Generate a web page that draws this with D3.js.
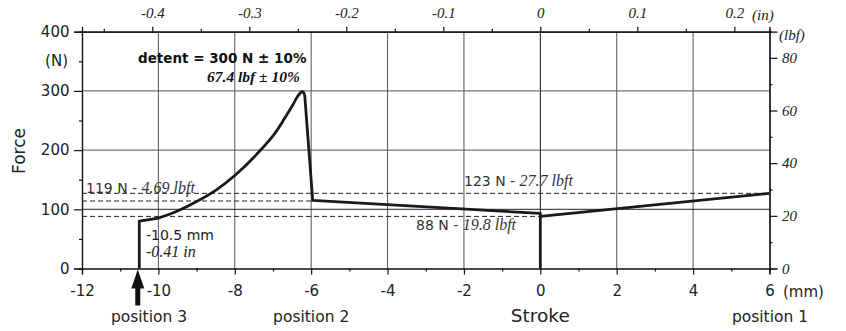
<!DOCTYPE html>
<html><head><meta charset="utf-8">
<script src="https://cdn.jsdelivr.net/npm/d3@7"></script>
<style>
body{margin:0;background:#fff;}
svg{display:block;}
.sans{font-family:"DejaVu Sans",Verdana,sans-serif;}
.serif{font-family:"Liberation Serif","Times New Roman",serif;font-style:italic;}
</style></head>
<body><svg id="c" width="846" height="331"></svg>
<script>
// ---- data ----
const strokeTicksMm = [-12,-10,-8,-6,-4,-2,0,2,4,6];
const forceTicksN = [0,100,200,300,400];
const inchTicks = [-0.4,-0.3,-0.2,-0.1,0,0.1,0.2];
const lbfTicks = [0,20,40,60,80];
// entry segment (vertical rise at -10.5 mm)
const entryMm = [-10.5,-10.5,-10];
const entryN  = [0,80,85];
// rising detent curve
const riseMm = [-10,-9.5,-9,-8.5,-8,-7.5,-7,-6.75,-6.5,-6.4,-6.33,-6.27,-6.22,-6.17];
const riseN  = [85,97,113,132,157,188,224,248,274,286,293,297.5,298.5,294];
// drop and return
const dropMm = [-6.17,-5.96,0,0];
const dropN  = [294,115,93,0];
// final segment
const endMm = [0,6];
const endN  = [88,127];
// dashed reference lines
const refN   = [127,114,88];
const refX0  = [-12,-12,-12];
const refX1  = [6,-6,0];

const svg = d3.select("#c");
const x = d3.scaleLinear().domain([-12,6]).range([82,769.5]);
const y = d3.scaleLinear().domain([0,400]).range([268.5,31.7]);
const xin = d3.scaleLinear().domain([-12/25.4,6/25.4]).range([82,769.5]);
const ylbf = d3.scaleLinear().domain([0,400/4.44822]).range([268.5,31.7]);

// grid
const g = svg.append("g");
g.selectAll(".vg").data(strokeTicksMm.filter(d=>d>-12&&d<6)).join("line")
  .attr("x1",d=>x(d)).attr("x2",d=>x(d)).attr("y1",y(0)).attr("y2",y(400))
  .attr("stroke",d=>d===0?"#111":"#555").attr("stroke-width",1);
g.selectAll(".hg").data(forceTicksN.filter(d=>d>0&&d<400)).join("line")
  .attr("x1",x(-12)).attr("x2",x(6)).attr("y1",d=>y(d)).attr("y2",d=>y(d))
  .attr("stroke",d=>d===100?"#222":"#555").attr("stroke-width",1);

// dashed refs
g.selectAll(".ref").data(refN).join("line")
  .attr("x1",(d,i)=>x(refX0[i])).attr("x2",(d,i)=>x(refX1[i]))
  .attr("y1",d=>y(d)).attr("y2",d=>y(d))
  .attr("stroke","#222").attr("stroke-width",1).attr("stroke-dasharray","5,3");

// axes
const axBottom = d3.axisBottom(x).tickValues(strokeTicksMm).tickSize(6).tickFormat(d=>String(d));
const axBottomMinor = d3.axisBottom(x).tickValues(d3.range(-11,6,2)).tickSize(3).tickFormat("");
const axLeft = d3.axisLeft(y).tickValues(forceTicksN).tickSize(8).tickFormat(d=>String(d));
const axLeftMinor = d3.axisLeft(y).tickValues([50,150,250,350]).tickSize(3).tickFormat("");
const axTop = d3.axisTop(xin).tickValues(inchTicks).tickSize(5).tickFormat(d=>String(Math.round(d*10)/10));
const axTopMinor = d3.axisTop(xin).tickValues([-0.45,-0.35,-0.25,-0.15,-0.05,0.05,0.15]).tickSize(3).tickFormat("");
const axRight = d3.axisRight(ylbf).tickValues(lbfTicks).tickSize(8).tickFormat(d=>String(d));
const axRightMinor = d3.axisRight(ylbf).tickValues([10,30,50,70]).tickSize(3).tickFormat("");

function style(sel, cls, size){
  sel.select(".domain").attr("stroke","#111").attr("stroke-width",1.2).attr("fill","none");
  sel.selectAll(".tick line").attr("stroke","#111").attr("stroke-width",1.2);
  sel.selectAll(".tick text").attr("class",cls).attr("font-size",size).attr("fill","#222");
}
const gb = svg.append("g").attr("transform",`translate(0,${y(0)})`).call(axBottom);
style(gb,"sans",15); gb.selectAll(".tick text").attr("dy","1.25em");
svg.append("g").attr("transform",`translate(0,${y(0)})`).call(axBottomMinor).call(s=>style(s,"sans",15));
const gl = svg.append("g").attr("transform",`translate(${x(-12)},0)`).call(axLeft);
style(gl,"sans",15); gl.selectAll(".tick text").attr("dx","-0.1em");
svg.append("g").attr("transform",`translate(${x(-12)},0)`).call(axLeftMinor).call(s=>style(s,"sans",15));
const gt = svg.append("g").attr("transform",`translate(0,${y(400)})`).call(axTop);
style(gt,"serif",15); gt.selectAll(".tick text").attr("dy","-0.35em");
svg.append("g").attr("transform",`translate(0,${y(400)})`).call(axTopMinor).call(s=>style(s,"serif",15));
const gr = svg.append("g").attr("transform",`translate(${x(6)},0)`).call(axRight);
style(gr,"serif",15); gr.selectAll(".tick text").attr("dx","0.1em");
svg.append("g").attr("transform",`translate(${x(6)},0)`).call(axRightMinor).call(s=>style(s,"serif",15));

// curve
const lin = d3.line().x(d=>x(d[0])).y(d=>y(d[1]));
const smooth = d3.line().x(d=>x(d[0])).y(d=>y(d[1])).curve(d3.curveNatural);
const zip = (a,b)=>a.map((v,i)=>[v,b[i]]);
const cg = svg.append("g").attr("fill","none").attr("stroke","#1a1a1a").attr("stroke-width",2.8)
  .attr("stroke-linejoin","round");
cg.append("path").attr("d",lin(zip(entryMm,entryN)));
cg.append("path").attr("d",smooth(zip(riseMm,riseN)));
cg.append("path").attr("d",lin(zip(dropMm,dropN)));
cg.append("path").attr("d",lin(zip(endMm,endN)));

// labels
function txt(xp,yp,s,cls,size,opts={}){
  const t = svg.append("text").attr("x",xp).attr("y",yp).attr("class",cls)
    .attr("font-size",size).attr("fill",opts.fill||"#222").text(s);
  if(opts.anchor) t.attr("text-anchor",opts.anchor);
  if(opts.weight) t.attr("font-weight",opts.weight);
  return t;
}
function mixed(xp,yp,a,b){
  const t = svg.append("text").attr("x",xp).attr("y",yp).attr("fill","#333");
  t.append("tspan").attr("class","sans").attr("font-size",14).text(a);
  t.append("tspan").attr("class","serif").attr("font-size",16).text(b);
}
txt(x(-12)-14,y(350)+5,"(N)","sans",15,{anchor:"end"});
svg.append("text").attr("class","sans").attr("font-size",17).attr("fill","#222")
  .attr("text-anchor","middle").attr("transform","translate(25,151) rotate(-90)").text("Force");
txt(783,297,"(mm)","sans",15);
txt(752,20,"(in)","serif",15);
txt(779,40,"(lbf)","serif",15);
txt(x(0),322,"Stroke","sans",18.5,{anchor:"middle"});
txt(149,322,"position 3","sans",15.5,{anchor:"middle"});
txt(x(-6),322,"position 2","sans",15.5,{anchor:"middle"});
txt(770,322,"position 1","sans",15.5,{anchor:"middle"});
txt(138,63,"detent = 300 N ± 10%","sans",13.5,{weight:"bold",fill:"#111"});
txt(207,81.5,"67.4 lbf ± 10%","serif",15.5,{weight:"bold",fill:"#111"});
txt(146,240,"-10.5 mm","sans",14);
txt(146,257,"-0.41 in","serif",16);
mixed(86,192.5,"119 N - ","4.69 lbft");
mixed(464,186,"123 N - ","27.7 lbft");
mixed(416,230,"88 N - ","19.8 lbft");

// arrow
const ax = x(-10.54);
svg.append("path").attr("fill","#111")
  .attr("d",`M${ax},${y(0)+1} L${ax+6.5},${y(0)+20} L${ax+2.5},${y(0)+20} L${ax+2.5},${y(0)+37} L${ax-2.5},${y(0)+37} L${ax-2.5},${y(0)+20} L${ax-6.5},${y(0)+20} Z`);
</script></body></html>
